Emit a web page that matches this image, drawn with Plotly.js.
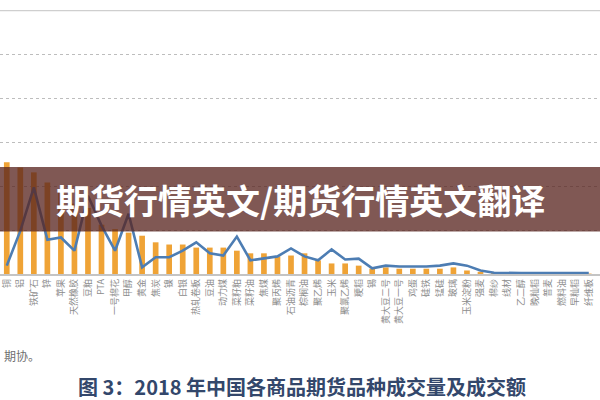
<!DOCTYPE html>
<html>
<head>
<meta charset="utf-8">
<script src="https://cdn.plot.ly/plotly-3.0.1.min.js"></script>
<style>html,body{margin:0;padding:0;background:#fff;}#chart{width:600px;height:400px;}</style>
</head>
<body>
<div id="chart"></div>
<script>
// Category labels (x axis)
const categories = ["铜","铝","铁矿石","锌","苹果","天然橡胶","豆粕","PTA","一号棉花","甲醇",
  "黄金","焦炭","镍","白银","热轧卷板","豆油","动力煤","菜籽粕","菜籽油","焦煤",
  "聚丙烯","石油沥青","棕榈油","聚乙烯","玉米","聚氯乙烯","粳稻","锡","黄大豆二号","黄大豆一号",
  "鸡蛋","硅铁","锰硅","玻璃","玉米淀粉","强麦","棉纱","线材","乙二醇","晚籼稻",
  "普麦","燃料油","早籼稻","纤维板"];
// Bars (orange) series
const volumeValues = [2.54,2.42,2.31,2.08,1.90,1.60,1.50,1.12,1.02,0.94,
  0.87,0.72,0.67,0.67,0.60,0.60,0.60,0.53,0.47,0.47,
  0.40,0.42,0.47,0.31,0.24,0.24,0.19,0.12,0.15,0.12,
  0.12,0.12,0.12,0.15,0.08,0.05,0.04,0.03,0.03,0.02,
  0.02,0.02,0.01,0.01];
// Line (blue) series
const turnoverValues = [0.19,0.98,1.97,0.78,0.83,0.53,1.78,1.10,0.53,1.37,
  0.15,0.38,0.38,0.53,0.72,0.47,0.42,0.85,0.31,0.35,
  0.40,0.58,0.40,0.31,0.56,0.33,0.35,0.13,0.19,0.17,
  0.17,0.17,0.19,0.24,0.19,0.08,0.03,0.02,0.02,0.02,
  0.02,0.02,0.02,0.02];
const bannerText = "期货行情英文/期货行情英文翻译";
const sourceText = "期协。";
const captionText = "图 3：2018 年中国各商品期货品种成交量及成交额";

const traces = [
  {type:'bar', x:categories, y:volumeValues, marker:{color:'#efa336'}, hoverinfo:'skip'},
  {type:'scatter', mode:'lines', x:categories, y:turnoverValues, line:{color:'#4d7db3', width:2.6}, hoverinfo:'skip'}
];

const layout = {
  width:600, height:400,
  margin:{l:0, r:0, t:10, b:126},
  paper_bgcolor:'#ffffff', plot_bgcolor:'#ffffff',
  showlegend:false,
  bargap:0.58,
  xaxis:{type:'category', range:[-0.5, 43.83], tickangle:-90, ticks:'',
    tickfont:{family:'"Noto Sans CJK SC", sans-serif', size:9, color:'#8c8c8c'},
    showline:true, linecolor:'#c4c4c4', linewidth:1.5, showgrid:false, fixedrange:true},
  yaxis:{range:[0,6], dtick:1, showticklabels:false, showgrid:true, gridcolor:'#bdbdbd',
    griddash:'dot', gridwidth:1, zeroline:false, fixedrange:true},
  shapes:[
    {type:'line', xref:'paper', yref:'y', x0:0, x1:1, y0:6, y1:6, line:{color:'#cfcfcf', width:2.5}},
    {type:'rect', xref:'paper', yref:'paper', x0:0, x1:1, y0:0.161, y1:0.405, fillcolor:'rgba(88,35,30,0.76)', line:{width:0}, layer:'above'}
  ],
  annotations:[
    {text:'<b>'+bannerText+'</b>', xref:'paper', yref:'paper', x:0.5, y:0.283, showarrow:false,
      font:{family:'"Noto Sans CJK SC", sans-serif', size:34, color:'#ffffff'}, xanchor:'center', yanchor:'middle'},
    {text:sourceText, xref:'paper', yref:'paper', x:0.003, y:-0.31, showarrow:false, xanchor:'left', yanchor:'middle',
      font:{family:'"Noto Sans CJK SC", sans-serif', size:12, color:'#6f6f6f'}},
    {text:'<b>'+captionText+'</b>', xref:'paper', yref:'paper', x:0.503, y:-0.425, showarrow:false, xanchor:'center', yanchor:'middle',
      font:{family:'"Noto Sans CJK SC", sans-serif', size:20, color:'#33476b'}}
  ]
};

Plotly.newPlot('chart', traces, layout, {staticPlot:true, displayModeBar:false});
</script>
</body>
</html>
